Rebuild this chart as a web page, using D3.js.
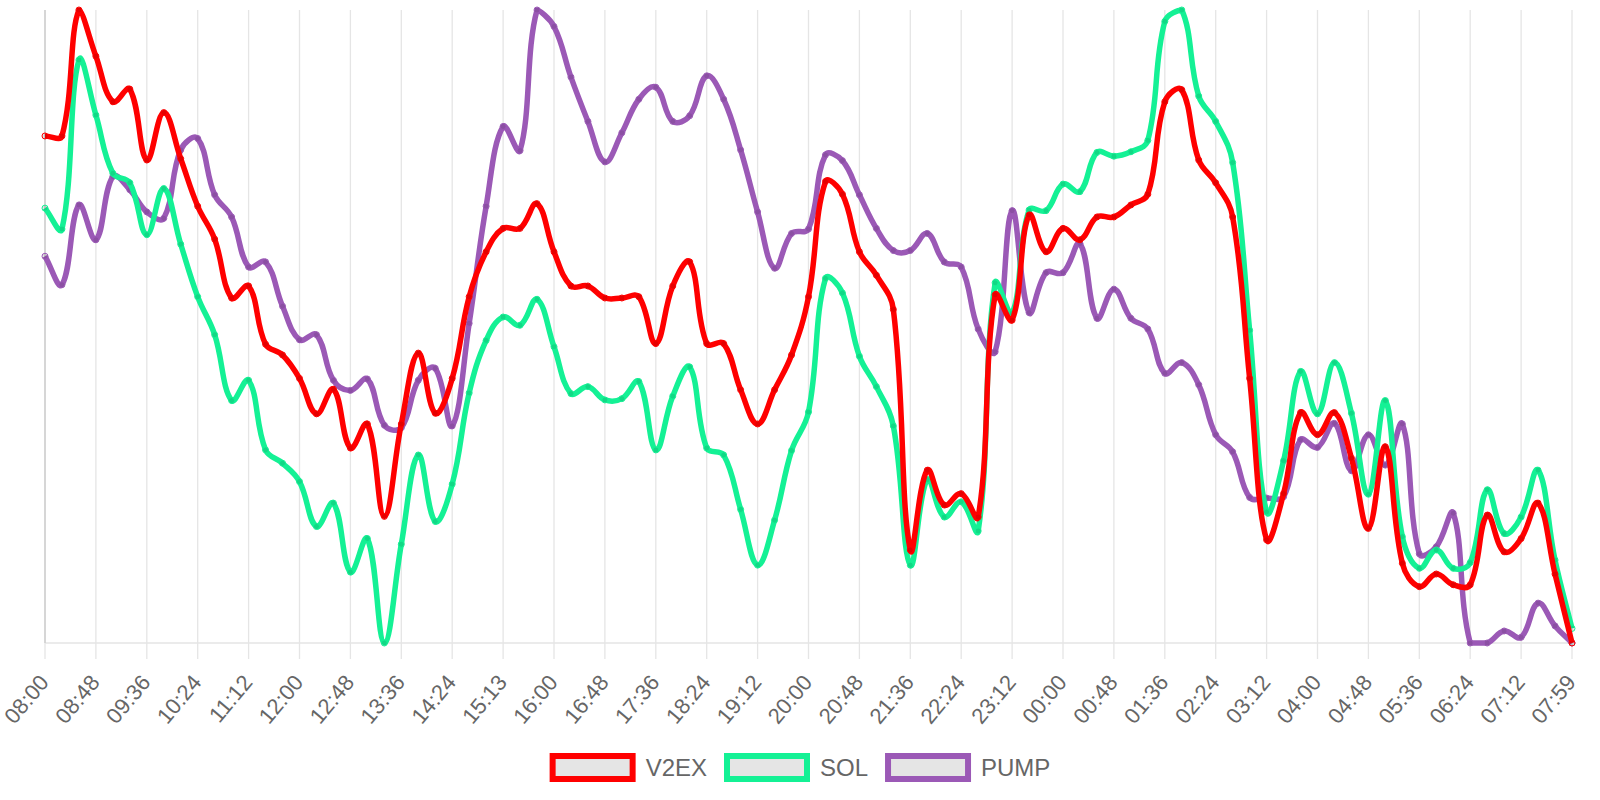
<!DOCTYPE html>
<html>
<head>
<meta charset="utf-8">
<script src="https://cdn.jsdelivr.net/npm/d3@7"></script>
<style>
    html, body { margin: 0; padding: 0; background: #fff; }
    svg { display: block; font-family: "Liberation Sans", Arial, Helvetica, sans-serif; }
</style>
</head>
<body>
<div id="chart"></div>
<script>
// Tick labels (every 3rd point gets one)
const tickLabels = ['08:00', '08:48', '09:36', '10:24', '11:12', '12:00', '12:48', '13:36', '14:24', '15:13',
    '16:00', '16:48', '17:36', '18:24', '19:12', '20:00', '20:48', '21:36', '22:24', '23:12',
    '00:00', '00:48', '01:36', '02:24', '03:12', '04:00', '04:48', '05:36', '06:24', '07:12', '07:59'];

const seriesNames = ['V2EX', 'SOL', 'PUMP'];
const seriesColors = ['#ff0000', '#14f195', '#9b59b6'];

// normalised values, 91 points each
const v2exValues = [80.1, 80.1, 100, 92.7, 85.5, 87.5, 76.3, 83.8, 76.5, 69.0,
    63.8, 54.5, 56.4, 47.2, 45.5, 41.8, 36.2, 40.1, 30.8, 34.6,
    20.0, 34.6, 45.8, 36.3, 41.8, 54.7, 61.8, 65.5, 65.5, 69.4,
    61.8, 56.4, 56.4, 54.5, 54.5, 54.7, 47.3, 56.4, 60.2, 47.3,
    47.3, 40.0, 34.6, 40.0, 45.5, 54.7, 72.9, 70.9, 61.8, 58.1,
    52.7, 14.7, 27.3, 21.8, 23.6, 19.9, 55.0, 51.0, 67.6, 61.8,
    65.5, 63.7, 67.3, 67.3, 69.2, 70.9, 85.5, 87.4, 76.3, 72.7,
    67.3, 41.8, 16.3, 23.6, 36.4, 32.9, 36.4, 29.2, 18.1, 31.0,
    12.6, 8.9, 10.9, 9.2, 9.2, 20.2, 14.4, 16.5, 22.1, 10.9, 0];

const solValues = [68.7, 65.4, 92.1, 83.4, 74.2, 72.7, 64.5, 71.8, 63.0, 54.7,
    48.7, 38.3, 41.5, 30.5, 28.4, 25.5, 18.4, 22.1, 11.2, 16.5,
    0, 15.6, 29.7, 19.2, 25.1, 39.5, 47.8, 51.5, 50.2, 54.3,
    46.8, 39.4, 40.5, 38.4, 38.6, 41.3, 30.5, 39.0, 43.6, 30.8,
    29.7, 21.1, 12.3, 19.4, 30.4, 36.5, 57.6, 55.3, 45.3, 40.5,
    34.3, 12.3, 25.8, 19.9, 22.3, 17.7, 56.9, 52.1, 68.4, 68.3,
    72.5, 71.3, 77.5, 76.9, 77.6, 79.4, 98.2, 100, 86.4, 82.4,
    75.9, 49.4, 20.7, 28.8, 42.9, 36.2, 44.3, 36.3, 23.5, 38.3,
    16.8, 11.8, 14.7, 11.8, 12.7, 24.2, 17.3, 19.9, 27.3, 13.1, 2.3];

const pumpValues = [61.1, 56.6, 69.2, 63.7, 73.7, 71.6, 68.1, 67.1, 77.9, 79.7,
    70.8, 67.3, 59.4, 60.2, 53.2, 47.9, 48.7, 41.5, 39.9, 41.7,
    34.4, 34.0, 41.5, 43.4, 34.3, 50.5, 69.0, 81.6, 77.8, 100,
    97.4, 89.4, 82.4, 76.0, 80.6, 85.9, 87.8, 82.4, 83.3, 89.6,
    85.9, 77.9, 68.1, 59.2, 64.7, 65.4, 77.1, 76.2, 70.8, 65.5,
    62.0, 62.0, 64.7, 60.2, 59.4, 49.6, 46.0, 68.3, 52.2, 58.5,
    58.5, 63.1, 51.3, 55.9, 51.3, 49.6, 42.6, 44.3, 40.8, 32.9,
    30.2, 23.0, 22.9, 23.1, 32.1, 30.9, 34.7, 27.2, 32.9, 28.1,
    34.6, 14.1, 15.2, 20.5, 0, 0, 1.9, 0.9, 6.3, 2.7, 0];

const seriesValues = [v2exValues, solValues, pumpValues];

const width = 1600, height = 800;
const area = { left: 45, right: 1572, top: 10, bottom: 643 };
const pointsPerTick = 3;

const svg = d3.select('#chart').append('svg')
    .attr('width', width)
    .attr('height', height);

const x = d3.scaleLinear().domain([0, v2exValues.length - 1]).range([area.left, area.right]);
const y = d3.scaleLinear().domain([0, 100]).range([area.bottom, area.top]);

// Chart.js style spline (tension 0.4, control points capped to the chart area)
function splineCurve(context) {
    let pts;
    const tension = 0.4;
    const cap = (v, lo, hi) => Math.max(Math.min(v, hi), lo);
    return {
        areaStart() {}, areaEnd() {},
        lineStart() { pts = []; },
        point(px, py) { pts.push([+px, +py]); },
        lineEnd() {
            const n = pts.length;
            const cps = pts.map((cur, i) => {
                const prev = pts[i - 1] || cur, next = pts[i + 1] || cur;
                const d01 = Math.hypot(cur[0] - prev[0], cur[1] - prev[1]);
                const d12 = Math.hypot(next[0] - cur[0], next[1] - cur[1]);
                let s01 = d01 / (d01 + d12), s12 = d12 / (d01 + d12);
                if (isNaN(s01)) s01 = 0;
                if (isNaN(s12)) s12 = 0;
                const fa = tension * s01, fb = tension * s12;
                return {
                    px: cap(cur[0] - fa * (next[0] - prev[0]), area.left, area.right),
                    py: cap(cur[1] - fa * (next[1] - prev[1]), area.top, area.bottom),
                    nx: cap(cur[0] + fb * (next[0] - prev[0]), area.left, area.right),
                    ny: cap(cur[1] + fb * (next[1] - prev[1]), area.top, area.bottom)
                };
            });
            context.moveTo(pts[0][0], pts[0][1]);
            for (let i = 1; i < n; i++) {
                context.bezierCurveTo(cps[i - 1].nx, cps[i - 1].ny, cps[i].px, cps[i].py, pts[i][0], pts[i][1]);
            }
        }
    };
}

// vertical grid lines (also act as tick marks below the axis)
const tickIdx = tickLabels.map((d, i) => i * pointsPerTick);
svg.append('g')
    .selectAll('line')
    .data(tickIdx)
    .join('line')
    .attr('x1', d => x(d)).attr('x2', d => x(d))
    .attr('y1', area.top).attr('y2', area.bottom + 16)
    .attr('stroke', '#e5e5e5')
    .attr('stroke-width', 1.3);

// x axis border
svg.append('line')
    .attr('x1', area.left).attr('x2', area.right)
    .attr('y1', area.bottom).attr('y2', area.bottom)
    .attr('stroke', '#e5e5e5').attr('stroke-width', 1.3);

// y axis border
svg.append('line')
    .attr('x1', area.left).attr('x2', area.left)
    .attr('y1', area.top).attr('y2', area.bottom)
    .attr('stroke', '#c9c9c9').attr('stroke-width', 1.3);

// tick labels, rotated 50 degrees (Chart.js max rotation)
svg.append('g')
    .selectAll('text')
    .data(tickLabels)
    .join('text')
    .attr('transform', (d, i) => `translate(${x(i * pointsPerTick) - 1},${area.bottom + 35}) rotate(-50)`)
    .attr('text-anchor', 'end')
    .attr('dy', '0.35em')
    .attr('font-size', 22)
    .attr('fill', '#666')
    .text(d => d);

const line = d3.line()
    .x((d, i) => x(i))
    .y(d => y(d))
    .curve(splineCurve);

// draw the last dataset first so V2EX ends on top, like Chart.js
for (let s = seriesValues.length - 1; s >= 0; s--) {
    const g = svg.append('g');
    g.append('path')
        .datum(seriesValues[s])
        .attr('fill', 'none')
        .attr('stroke', seriesColors[s])
        .attr('stroke-width', 5.5)
        .attr('stroke-linejoin', 'round')
        .attr('d', line);

    g.selectAll('circle')
        .data(seriesValues[s])
        .join('circle')
        .attr('cx', (d, i) => x(i))
        .attr('cy', d => y(d))
        .attr('r', 3)
        .attr('fill', 'rgba(0,0,0,0.1)')
        .attr('stroke', seriesColors[s])
        .attr('stroke-width', 1);
}

// legend at the bottom, centred
const legend = svg.append('g');
const boxW = 80, boxH = 23, boxStroke = 6;
const items = legend.selectAll('g')
    .data(seriesNames)
    .join('g');

items.append('rect')
    .attr('width', boxW).attr('height', boxH)
    .attr('fill', 'rgba(0,0,0,0.1)')
    .attr('stroke', (d, i) => seriesColors[i])
    .attr('stroke-width', boxStroke);

items.append('text')
    .attr('x', boxW + boxStroke / 2 + 10)
    .attr('y', boxH / 2 + 8.5)
    .attr('font-size', 24)
    .attr('fill', '#666')
    .text(d => d);

let cursor = 0;
const offsets = [];
items.each(function() {
    const w = this.querySelector('text').getComputedTextLength();
    offsets.push(cursor);
    cursor += boxW + boxStroke + 10 + w + 17;
});
const total = cursor - 17;
const startX = width / 2 - total / 2 + boxStroke / 2;
items.attr('transform', (d, i) => `translate(${startX + offsets[i]},${756})`);
</script>
</body>
</html>
